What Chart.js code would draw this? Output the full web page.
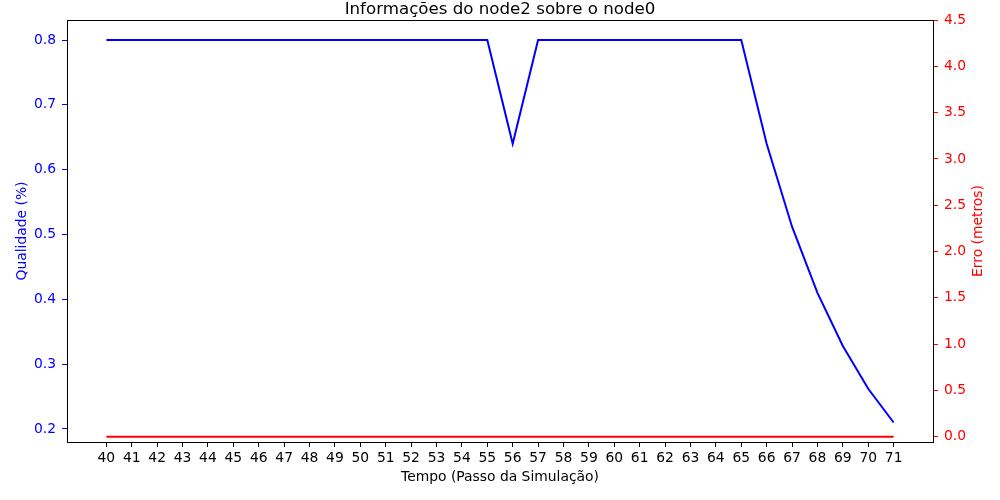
<!DOCTYPE html>
<html>
<head>
<meta charset="utf-8">
<script src="https://cdn.jsdelivr.net/npm/chart.js@4/dist/chart.umd.min.js"></script>
<style>
html,body{margin:0;padding:0;background:#fff;}
canvas{display:block;}
</style>
</head>
<body>
<canvas id="c" width="1000" height="500"></canvas>
<script>
const tempo = [40,41,42,43,44,45,46,47,48,49,50,51,52,53,54,55,56,57,58,59,60,61,62,63,64,65,66,67,68,69,70,71];
const qualidade = [0.8,0.8,0.8,0.8,0.8,0.8,0.8,0.8,0.8,0.8,0.8,0.8,0.8,0.8,0.8,0.8,0.64,0.8,0.8,0.8,0.8,0.8,0.8,0.8,0.8,0.8,0.64,0.512,0.41,0.328,0.262,0.21];
const erro = [0,0,0,0,0,0,0,0,0,0,0,0,0,0,0,0,0,0,0,0,0,0,0,0,0,0,0,0,0,0,0,0];
const xTicks = tempo;
const yLeftTicks = [0.2,0.3,0.4,0.5,0.6,0.7,0.8];
const yRightTicks = [0.0,0.5,1.0,1.5,2.0,2.5,3.0,3.5,4.0,4.5];
const rightTitle = 'Erro (metros)';

const FONT = "'DejaVu Sans', sans-serif";
const frame = {
  id: 'frame',
  afterDatasetsDraw(chart) {
    const a = chart.chartArea, ctx = chart.ctx;
    ctx.save();
    ctx.strokeStyle = '#000';
    ctx.lineWidth = 1;
    ctx.strokeRect(Math.round(a.left) + 0.5, Math.round(a.top) + 0.5, Math.round(a.right - a.left), Math.round(a.bottom - a.top));
    ctx.restore();
  },
  afterDraw(chart) {
    const a = chart.chartArea, ctx = chart.ctx;
    const s = chart.scales.y1;
    ctx.save();
    ctx.fillStyle = '#ff0000';
    ctx.font = "13.89px 'DejaVu Sans', sans-serif";
    ctx.textAlign = 'center';
    ctx.textBaseline = 'middle';
    ctx.translate(s.right - 22, (a.top + a.bottom) / 2);
    ctx.rotate(-Math.PI / 2);
    ctx.fillText(rightTitle, 0, 0);
    ctx.restore();
  }
};

new Chart(document.getElementById('c'), {
  type: 'line',
  data: {
    datasets: [
      {
        label: 'Qualidade',
        data: tempo.map((t, i) => ({x: t, y: qualidade[i]})),
        borderColor: '#0000ff',
        borderWidth: 2,
        pointRadius: 0,
        tension: 0,
        yAxisID: 'y'
      },
      {
        label: 'Erro',
        data: tempo.map((t, i) => ({x: t, y: erro[i]})),
        borderColor: '#ff0000',
        borderWidth: 2,
        pointRadius: 0,
        tension: 0,
        yAxisID: 'y1'
      }
    ]
  },
  options: {
    responsive: false,
    animation: false,
    layout: {padding: 0},
    plugins: {
      legend: {display: false},
      tooltip: {enabled: false},
      title: {
        display: true,
        text: 'Informações do node2 sobre o node0',
        color: '#000',
        font: {family: FONT, size: 16.67, weight: 'normal'},
        padding: {top: 0, bottom: 0}
      }
    },
    scales: {
      x: {
        type: 'linear',
        min: 38.45,
        max: 72.55,
        afterBuildTicks: (s) => { s.ticks = xTicks.map(v => ({value: v})); },
        afterFit: (s) => { s.height = 58; },
        grid: {drawOnChartArea: false, drawTicks: true, tickLength: 5, color: '#000'},
        border: {display: false},
        ticks: {color: '#000', font: {family: FONT, size: 13.89}, padding: 3, maxRotation: 0, autoSkip: false, callback: v => String(v)},
        title: {display: true, text: 'Tempo (Passo da Simulação)', color: '#000', font: {family: FONT, size: 13.89}, padding: {top: 0, bottom: 14.7}}
      },
      y: {
        type: 'linear',
        position: 'left',
        min: 0.1799,
        max: 0.8309,
        afterBuildTicks: (s) => { s.ticks = yLeftTicks.map(v => ({value: v})); },
        afterFit: (s) => { s.width = 67; },
        grid: {drawOnChartArea: false, drawTicks: true, tickLength: 5, color: '#0000ff'},
        border: {display: false},
        ticks: {color: '#0000ff', font: {family: FONT, size: 13.89}, padding: 6, callback: v => v.toFixed(1)},
        title: {display: true, text: 'Qualidade (%)', color: '#0000ff', font: {family: FONT, size: 13.89}, padding: {top: 13.7, bottom: 0}}
      },
      y1: {
        type: 'linear',
        position: 'right',
        min: -0.057,
        max: 4.5,
        afterBuildTicks: (s) => { s.ticks = yRightTicks.map(v => ({value: v})); },
        afterFit: (s) => { s.width = 67; },
        grid: {drawOnChartArea: false, drawTicks: true, tickLength: 5, color: '#ff0000'},
        border: {display: false},
        ticks: {color: '#ff0000', font: {family: FONT, size: 13.89}, padding: 6, callback: v => v.toFixed(1)},
        title: {display: false}
      }
    }
  },
  plugins: [frame]
});
</script>
</body>
</html>
